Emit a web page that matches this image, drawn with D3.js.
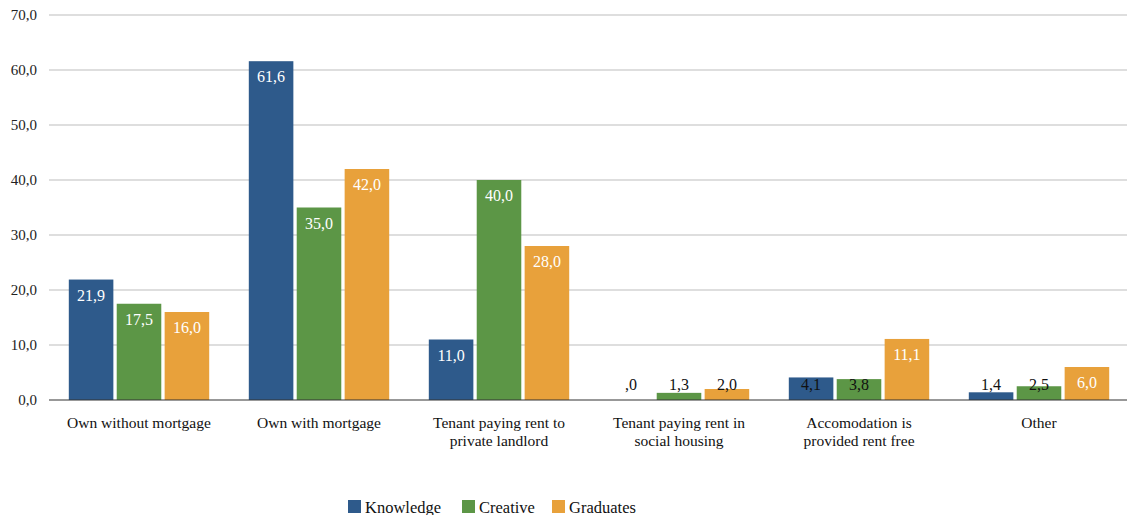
<!DOCTYPE html>
<html>
<head>
<meta charset="utf-8">
<script src="https://cdn.jsdelivr.net/npm/d3@7"></script>
<style>
  html, body { margin: 0; padding: 0; background: #fff; }
  svg { display: block; }
  svg text { font-family: "Liberation Serif", "Times New Roman", Times, serif; }
</style>
</head>
<body>
<svg id="chart" width="1127" height="515"></svg>
<script>
// Housing tenure by group (%)
const categories = [
  ["Own without mortgage"],
  ["Own with mortgage"],
  ["Tenant paying rent to", "private landlord"],
  ["Tenant paying rent in", "social housing"],
  ["Accomodation is", "provided rent free"],
  ["Other"]
];
const seriesNames = ["Knowledge", "Creative", "Graduates"];
const knowledge = [21.9, 61.6, 11.0, 0.0, 4.1, 1.4];
const creative  = [17.5, 35.0, 40.0, 1.3, 3.8, 2.5];
const graduates = [16.0, 42.0, 28.0, 2.0, 11.1, 6.0];
const yTicks = [0, 10, 20, 30, 40, 50, 60, 70];
const colors = ["#2e5a8b", "#5c9646", "#e8a13b"];

const seriesValues = [knowledge, creative, graduates];
const catKeys = categories.map(c => c.join(" "));
const serif = "Liberation Serif, Times New Roman, serif";

const svg = d3.select("#chart").attr("font-family", serif);
const plotLeft = 49, plotRight = 1129, plotTop = 15, plotBottom = 400;

const x0 = d3.scaleBand().domain(catKeys).range([plotLeft, plotRight])
  .paddingInner(0.22).paddingOuter(0.11);
const x1 = d3.scaleBand().domain(seriesNames).range([0, x0.bandwidth()])
  .paddingInner(0.07).paddingOuter(0);
const y = d3.scaleLinear().domain([0, 70]).range([plotBottom, plotTop]);

const fmt = v => v === 0 ? ",0" : v.toFixed(1).replace(".", ",");

// gridlines
svg.append("g").selectAll("line").data(yTicks.filter(t => t > 0)).join("line")
  .attr("x1", plotLeft).attr("x2", 1127)
  .attr("y1", d => y(d)).attr("y2", d => y(d))
  .attr("stroke", "#bdbdbd").attr("stroke-width", 1.2);

// y axis labels
const yAxis = d3.axisLeft(y).tickValues(yTicks).tickSize(0).tickPadding(12)
  .tickFormat(d => d.toFixed(1).replace(".", ","));
svg.append("g").attr("transform", `translate(${plotLeft},0)`).call(yAxis)
  .attr("font-family", serif)
  .call(g => g.select(".domain").remove())
  .call(g => g.selectAll("text")
    .attr("font-family", serif)
    .attr("font-size", 15).attr("fill", "#222"));

// bars
const groups = svg.append("g").selectAll("g").data(catKeys).join("g")
  .attr("transform", d => `translate(${x0(d)},0)`);

const cells = groups.selectAll("g").data((d, i) => seriesNames.map((s, j) => ({s, j, v: seriesValues[j][i]})))
  .join("g");

cells.append("rect")
  .attr("x", d => x1(d.s)).attr("width", x1.bandwidth())
  .attr("y", d => y(d.v)).attr("height", d => y(0) - y(d.v))
  .attr("fill", d => colors[d.j]);

// value labels: inside the top of the bar, pushed up above the axis for short bars
cells.append("text")
  .attr("x", d => x1(d.s) + x1.bandwidth() / 2)
  .attr("y", d => Math.min(y(d.v) + 21, y(0) - 10))
  .attr("text-anchor", "middle")
  .attr("font-family", serif)
  .attr("font-size", 16)
  .attr("fill", d => (y(d.v) + 21 <= y(0) - 10) ? "#fff" : "#111")
  .text(d => fmt(d.v));

// zero axis line
svg.append("line").attr("x1", plotLeft).attr("x2", 1127)
  .attr("y1", y(0)).attr("y2", y(0))
  .attr("stroke", "#333").attr("stroke-width", 1.2);

// category labels
const xLab = svg.append("g").selectAll("text").data(categories).join("text")
  .attr("x", (d, i) => x0(catKeys[i]) + x0.bandwidth() / 2)
  .attr("y", 428)
  .attr("text-anchor", "middle")
  .attr("font-family", serif)
  .attr("font-size", 15.5)
  .attr("fill", "#111");
xLab.selectAll("tspan").data(d => d).join("tspan")
  .attr("x", function() { return d3.select(this.parentNode).attr("x"); })
  .attr("dy", (d, i) => i === 0 ? 0 : 18)
  .text(d => d);

// legend
const legendX = [348, 462, 552];
const leg = svg.append("g").selectAll("g").data(seriesNames).join("g")
  .attr("transform", (d, i) => `translate(${legendX[i]},500)`);
leg.append("rect").attr("width", 13).attr("height", 13)
  .attr("fill", (d, i) => colors[i]);
leg.append("text").attr("x", 17).attr("y", 12.5)
  .attr("font-family", serif)
  .attr("font-size", 16.5).attr("fill", "#111").text(d => d);
</script>
</body>
</html>
